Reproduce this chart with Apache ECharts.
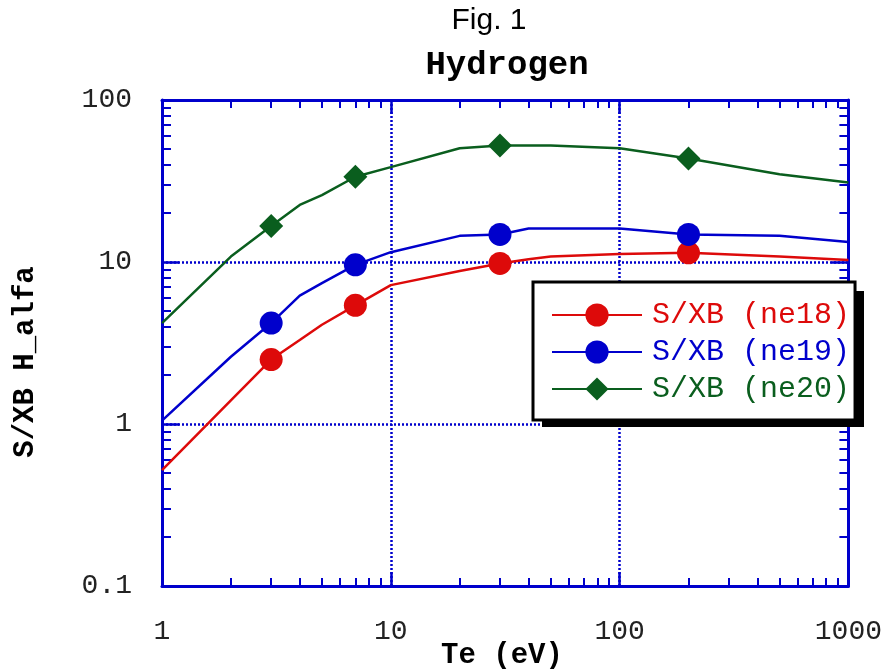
<!DOCTYPE html>
<html>
  <head>
    <meta charset="UTF-8">
    <title>Fig. 1 Hydrogen</title>
    <script src="https://cdn.jsdelivr.net/npm/echarts@6/dist/echarts.min.js"></script>
  </head>
  <body style="margin:0;background:#fff">
    <div id="myChart" style="width:885px;height:669px;"></div>
    <script type="text/javascript">
    // Te (eV) grid and S/XB values per density
    var te = [1, 2, 3, 4, 5, 7, 10, 20, 30, 40, 50, 100, 200, 500, 1000];
    var ne18 = [0.52, 1.4, 2.5, 3.3, 4.1, 5.4, 7.2, 8.8, 9.8, 10.4, 10.8, 11.2, 11.4, 10.8, 10.3];
    var ne19 = [1.05, 2.6, 4.2, 6.2, 7.4, 9.6, 11.5, 14.5, 14.8, 16.1, 16.1, 16.1, 14.8, 14.5, 13.3];
    var ne20 = [4.2, 10.8, 16.7, 22.5, 25.9, 33.6, 38.5, 50.4, 52.3, 52.3, 52.3, 50.4, 43.6, 34.8, 31];
    var markedTe = [3, 7, 30, 200];
    var names = ['S/XB (ne18)', 'S/XB (ne19)', 'S/XB (ne20)'];
    var colors = ['#dd0a0a', '#0000cc', '#0a5e1e'];

    var blue = '#0000cc';
    var mono = '"Liberation Mono", "DejaVu Sans Mono", monospace';

    // minor ticks at 2..9 of every decade, in log10 space
    function minorTicks(fromExp, toExp) {
      var out = [];
      for (var e = fromExp; e < toExp; e++) {
        for (var k = 2; k <= 9; k++) out.push(Math.log10(k) + e);
      }
      return out;
    }

    function toData(vals) {
      return te.map(function (x, i) {
        if (markedTe.indexOf(x) >= 0) return [x, vals[i]];
        return { value: [x, vals[i]], symbol: 'none' };
      });
    }

    function majorAxis(pos, min, max, len, main) {
      return {
        type: 'log', logBase: 10, position: pos, min: min, max: max,
        axisLine: { show: true, onZero: false, lineStyle: { color: blue, width: 3 } },
        axisTick: { show: true, inside: true, length: len, lineStyle: { color: blue, width: 2.5 } },
        axisLabel: main ? {
          show: true, fontFamily: mono, fontSize: 28, color: '#222',
          margin: pos === 'left' ? 30 : 32,
          formatter: function (v) { return String(v); }
        } : { show: false },
        splitLine: main ? { show: true, lineStyle: { color: blue, width: 2.5, type: [2, 2] } } : { show: false },
        minorTick: { show: false }
      };
    }

    function minorAxis(pos, min, max, ticks, len) {
      return {
        type: 'value', position: pos, min: min, max: max,
        axisLine: { show: false, onZero: false },
        axisTick: { show: true, inside: true, length: len, customValues: ticks, lineStyle: { color: blue, width: 2 } },
        axisLabel: { show: false },
        splitLine: { show: false }
      };
    }

    var myChart = echarts.init(document.getElementById('myChart'));

    var series = [ne18, ne19, ne20].map(function (vals, i) {
      return {
        type: 'line',
        name: names[i],
        data: toData(vals),
        xAxisIndex: 0,
        yAxisIndex: 0,
        symbol: i === 2 ? 'diamond' : 'circle',
        symbolSize: i === 2 ? 24 : 23,
        showAllSymbol: true,
        itemStyle: { color: colors[i] },
        lineStyle: { color: colors[i], width: 2.5 },
        z: 5
      };
    });

    var option = {
      animation: false,
      backgroundColor: '#fff',
      grid: { left: 162, right: 34, top: 100, bottom: 83, containLabel: false },
      xAxis: [
        majorAxis('bottom', 1, 1000, 14, true),
        majorAxis('top', 1, 1000, 14, false),
        minorAxis('bottom', 0, 3, minorTicks(0, 3), 8),
        minorAxis('top', 0, 3, minorTicks(0, 3), 8)
      ],
      yAxis: [
        majorAxis('left', 0.1, 100, 17, true),
        majorAxis('right', 0.1, 100, 17, false),
        minorAxis('left', -1, 2, minorTicks(-1, 2), 9),
        minorAxis('right', -1, 2, minorTicks(-1, 2), 9)
      ],
      legend: {
        orient: 'vertical',
        left: 533,
        top: 282,
        padding: [18, 5, 16, 18],
        itemWidth: 90,
        itemHeight: 29,
        itemGap: 7,
        backgroundColor: '#fff',
        borderColor: '#000',
        borderWidth: 3,
        borderRadius: 0,
        textStyle: { fontFamily: mono, fontSize: 30, padding: [0, 0, 0, 5] },
        data: names.map(function (n, i) {
          return { name: n, textStyle: { color: colors[i] } };
        }),
        z: 10
      },
      graphic: [
        // drop shadow of the legend box
        { type: 'rect', z: 9, shape: { x: 542, y: 291, width: 322, height: 136 }, style: { fill: '#000' } },
        { type: 'text', style: { text: 'Fig. 1', x: 489, y: 21, textAlign: 'center', textVerticalAlign: 'middle', font: '30px "Liberation Sans", Arial, sans-serif', fill: '#000' } },
        { type: 'text', style: { text: 'Hydrogen', x: 507, y: 65, textAlign: 'center', textVerticalAlign: 'middle', font: 'bold 34px ' + mono, fill: '#000' } },
        { type: 'text', style: { text: 'Te (eV)', x: 502, y: 656, textAlign: 'center', textVerticalAlign: 'middle', font: 'bold 29px ' + mono, fill: '#000' } },
        { type: 'text', x: 26, y: 362, rotation: Math.PI / 2, style: { text: 'S/XB H_alfa', x: 0, y: 0, textAlign: 'center', textVerticalAlign: 'middle', font: 'bold 29px ' + mono, fill: '#000' } }
      ],
      series: series
    };

    myChart.setOption(option);
    </script>
  </body>
</html>
